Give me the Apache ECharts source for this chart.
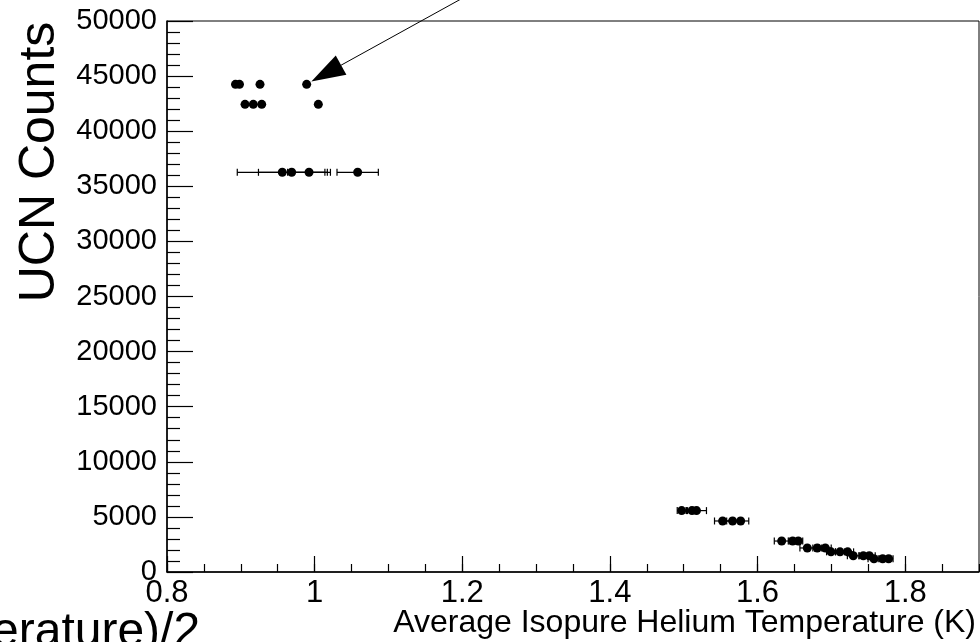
<!DOCTYPE html>
<html>
<head>
<meta charset="utf-8">
<script src="https://cdn.jsdelivr.net/npm/echarts@6/dist/echarts.min.js"></script>
<style>
html,body{margin:0;padding:0;background:#fff;}
#chart{width:980px;height:642px;}
</style>
</head>
<body>
<div id="chart"></div>
<script>
// Average isopure helium temperature (K)
const tempK = [
  0.8928, 0.8982, 0.926, 0.9892,
  0.9057, 0.9169, 0.9283, 1.005,
  0.9562, 0.9689, 0.9924, 1.0583,
  1.4972, 1.5112, 1.5173,
  1.5527, 1.5662, 1.5771,
  1.6327, 1.6476, 1.6552,
  1.6674, 1.6809, 1.6918,
  1.6995, 1.7117, 1.7221,
  1.7297, 1.7433, 1.7514,
  1.7577, 1.7695, 1.7776
];
// Temperature uncertainty (K)
const tempErr = [
  0, 0, 0, 0,
  0, 0, 0, 0,
  0.061, 0.045, 0.029, 0.028,
  0.006, 0.006, 0.0135,
  0.011, 0.008, 0.011,
  0.010, 0.006, 0.006,
  0.010, 0.006, 0.008,
  0.006, 0.006, 0.008,
  0.008, 0.006, 0.008,
  0.008, 0.006, 0.006
];
// UCN counts
const ucnCounts = [
  44250, 44250, 44250, 44250,
  42440, 42440, 42440, 42440,
  36270, 36270, 36270, 36270,
  5570, 5570, 5570,
  4630, 4630, 4630,
  2810, 2810, 2810,
  2180, 2180, 2180,
  1830, 1830, 1830,
  1470, 1470, 1470,
  1200, 1200, 1200
];
const xTitle = 'Average Isopure Helium Temperature (K)';
const yTitle = 'UCN Counts';
const cutTitle = 'erature)/2';
// annotation arrow in data coordinates
const arrowTip = [0.9955, 44500];
const arrowTail = [1.197, 51950];

const points = tempK.map((t, i) => [t, ucnCounts[i], tempErr[i]]);

const chart = echarts.init(document.getElementById('chart'), null, {renderer: 'canvas'});
const FONT = '"Liberation Sans", Arial, Helvetica, sans-serif';

chart.setOption({
  animation: false,
  backgroundColor: '#fff',
  grid: {left: 167, right: 1, top: 21, bottom: 70, show: true, borderColor: '#000', borderWidth: 1, backgroundColor: 'transparent', containLabel: false},
  xAxis: [
    {
      type: 'value', min: 0.8, max: 1.9, interval: 0.2, position: 'bottom',
      axisLine: {show: true, onZero: false, lineStyle: {color: '#000', width: 1.5}},
      axisTick: {show: true, inside: true, length: 16, lineStyle: {color: '#000', width: 1.2}},
      axisLabel: {show: true, showMaxLabel: false, color: '#000', fontFamily: FONT, fontSize: 31, margin: 6,
        formatter: v => String(Math.round(v * 10) / 10)},
      splitLine: {show: false}
    },
    {
      type: 'value', min: 0.8, max: 1.9, interval: 0.05, position: 'bottom',
      axisLine: {show: false, onZero: false},
      axisTick: {show: true, inside: true, length: 8, lineStyle: {color: '#000', width: 1.2}},
      axisLabel: {show: false},
      splitLine: {show: false}
    }
  ],
  yAxis: {
    type: 'value', min: 0, max: 50000, interval: 5000,
    axisLine: {show: true, onZero: false, lineStyle: {color: '#000', width: 1.5}},
    axisTick: {show: true, inside: true, length: 26, lineStyle: {color: '#000', width: 1.2}},
    minorTick: {show: true, splitNumber: 5, length: 13, lineStyle: {color: '#000', width: 1.2}},
    axisLabel: {color: '#000', fontFamily: FONT, fontSize: 29, margin: 10, formatter: v => String(v)},
    splitLine: {show: false},
    minorSplitLine: {show: false}
  },
  series: [
    {
      type: 'custom',
      xAxisIndex: 0, yAxisIndex: 0,
      data: points,
      encode: {x: 0, y: 1},
      z: 2,
      renderItem: function (params, api) {
        const err = api.value(2);
        if (!err) return {type: 'group', children: []};
        const x = api.value(0), y = api.value(1);
        const l = api.coord([x - err, y]);
        const r = api.coord([x + err, y]);
        const h = 3.5;
        const st = {stroke: '#000', lineWidth: 1.2};
        return {
          type: 'group',
          children: [
            {type: 'line', shape: {x1: l[0], y1: l[1], x2: r[0], y2: r[1]}, style: st},
            {type: 'line', shape: {x1: l[0], y1: l[1] - h, x2: l[0], y2: l[1] + h}, style: st},
            {type: 'line', shape: {x1: r[0], y1: r[1] - h, x2: r[0], y2: r[1] + h}, style: st}
          ]
        };
      }
    },
    {
      type: 'scatter',
      xAxisIndex: 0, yAxisIndex: 0,
      data: points.map(p => [p[0], p[1]]),
      symbol: 'circle', symbolSize: 9,
      itemStyle: {color: '#000', opacity: 1},
      z: 3
    }
  ]
});

// draw titles and the annotation arrow (arrow from its data coordinates)
const tip = chart.convertToPixel({xAxisIndex: 0, yAxisIndex: 0}, arrowTip);
const tail = chart.convertToPixel({xAxisIndex: 0, yAxisIndex: 0}, arrowTail);
const dx = tail[0] - tip[0], dy = tail[1] - tip[1];
const len = Math.sqrt(dx * dx + dy * dy);
const ux = dx / len, uy = dy / len;
const headLen = 34, headHalf = 11;
const bx = tip[0] + ux * headLen, by = tip[1] + uy * headLen;
const px = -uy, py = ux;
chart.setOption({
  graphic: [
    {type: 'text', right: 4, top: 607, style: {text: xTitle, fill: '#000', font: '32px ' + FONT}},
    {type: 'text', x: 40, y: 162, rotation: Math.PI / 2,
      style: {text: yTitle, fill: '#000', font: '50px ' + FONT, align: 'center', verticalAlign: 'middle'}},
    {type: 'text', x: -8, y: 609, style: {text: cutTitle, fill: '#000', font: '48px ' + FONT, align: 'left', verticalAlign: 'top'}},
    {type: 'line', shape: {x1: bx, y1: by, x2: tail[0], y2: tail[1]}, style: {stroke: '#000', lineWidth: 1}, z: 10},
    {type: 'polygon', shape: {points: [[tip[0], tip[1]], [bx + px * headHalf, by + py * headHalf], [bx - px * headHalf, by - py * headHalf]]},
      style: {fill: '#000'}, z: 10}
  ]
});
</script>
</body>
</html>
